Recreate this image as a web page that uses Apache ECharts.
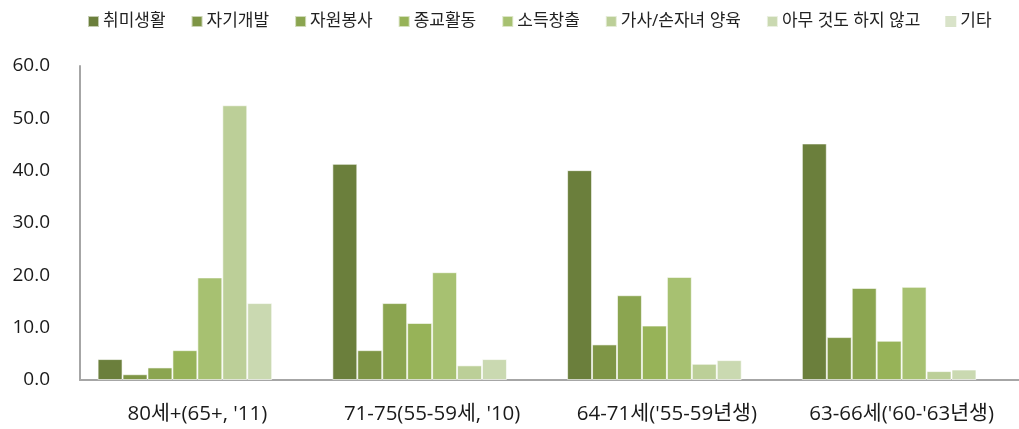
<!DOCTYPE html>
<html><head><meta charset="utf-8">
<script src="https://cdn.jsdelivr.net/npm/echarts@6/dist/echarts.min.js"></script>
<style>html,body{margin:0;padding:0;background:#fff}#c{width:1019px;height:429px}</style>
</head><body><div id="c"></div>
<script>
const categories = ["80세+(65+, '11)", "71-75(55-59세, '10)", "64-71세('55-59년생)", "63-66세('60-'63년생)"];
const seriesNames = ["취미생활", "자기개발", "자원봉사", "종교활동", "소득창출", "가사/손자녀 양육", "아무 것도 하지 않고", "기타"];
const hobby = [4.0, 41.3, 40.1, 45.2];
const selfDev = [1.1, 5.7, 6.8, 8.2];
const volunteer = [2.4, 14.7, 16.2, 17.6];
const religion = [5.7, 10.9, 10.4, 7.5];
const income = [19.6, 20.6, 19.7, 17.8];
const household = [52.5, 2.8, 3.1, 1.7];
const nothing = [14.7, 4.0, 3.8, 2.0];
const etc = [0, 0, 0, 0];
const yTicks = [0, 10, 20, 30, 40, 50, 60];

const values = [hobby, selfDev, volunteer, religion, income, household, nothing, etc];
const colors = ['#6b7f3c', '#7e9545', '#8ba550', '#97b358', '#a7c171', '#bccf98', '#cad9b1', '#d9e3c9'];
const font = '"Open Sans", "Noto Sans CJK KR", sans-serif';

const chart = echarts.init(document.getElementById('c'));
chart.setOption({
  animation: false,
  color: colors,
  legend: {
    top: 8, left: 82,
    itemWidth: 11, itemHeight: 11, itemGap: 25,
    icon: 'rect',
    textStyle: { fontFamily: font, fontSize: 17, color: '#222', padding: [0, 0, 0, -1] },
    data: seriesNames
  },
  grid: { left: 80, right: 0, top: 66, bottom: 49, containLabel: false },
  xAxis: {
    type: 'category', data: categories,
    axisLine: { lineStyle: { color: '#a6a6a6', width: 2 } },
    axisTick: { show: false },
    axisLabel: { interval: 0, fontFamily: font, fontSize: 20.5, color: '#1a1a1a', margin: 24 }
  },
  yAxis: {
    type: 'value', min: yTicks[0], max: yTicks[yTicks.length - 1], interval: 10,
    axisLine: { show: true, lineStyle: { color: '#a6a6a6', width: 2 } },
    axisTick: { show: false },
    splitLine: { show: false },
    axisLabel: { fontFamily: font, fontSize: 19, color: '#1a1a1a', margin: 30,
      formatter: v => v.toFixed(1) }
  },
  series: seriesNames.map((n, i) => ({
    name: n, type: 'bar', data: values[i],
    barGap: '0%', barCategoryGap: '15%',
    itemStyle: { color: colors[i], borderColor: 'rgba(255,255,255,0.6)', borderWidth: i === 7 ? 0 : 1 }
  }))
});
</script></body></html>
